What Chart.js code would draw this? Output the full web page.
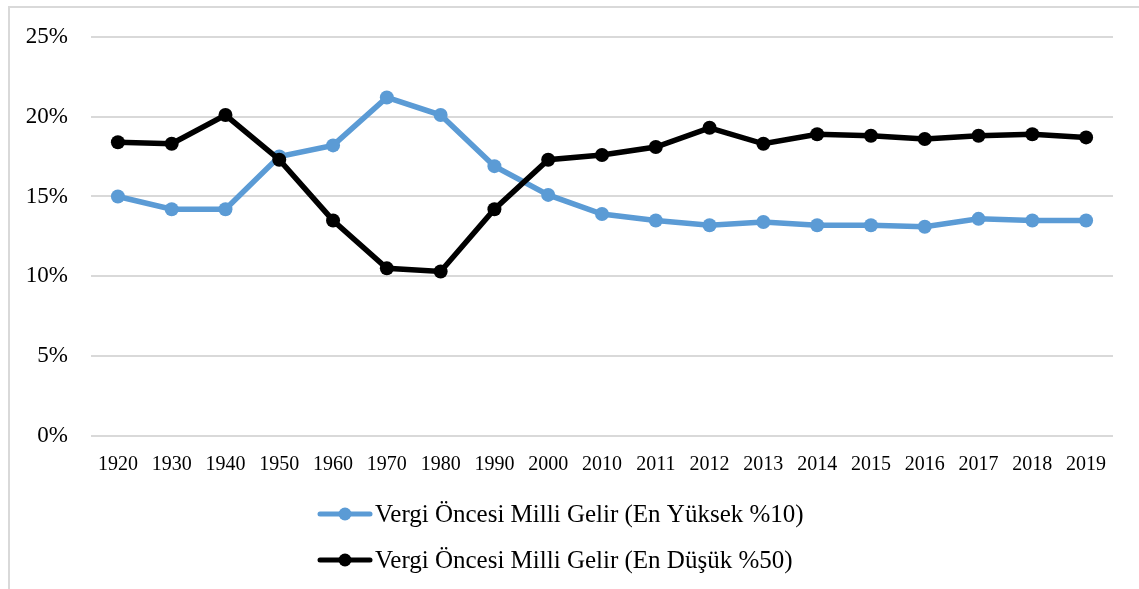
<!DOCTYPE html>
<html lang="tr">
<head>
<meta charset="utf-8">
<title>Vergi Öncesi Milli Gelir</title>
<script src="https://cdn.jsdelivr.net/npm/chart.js@4.4.1/dist/chart.umd.min.js"></script>
<style>
    html, body { margin: 0; padding: 0; background: #fff; }
    #wrap { width: 1139px; height: 589px; position: relative; }
</style>
</head>
<body>
<div id="wrap"><canvas id="gelirChart" width="1139" height="589"></canvas></div>
<script>
// Veriler
const yillar = ['1920', '1930', '1940', '1950', '1960', '1970', '1980', '1990', '2000',
    '2010', '2011', '2012', '2013', '2014', '2015', '2016', '2017', '2018', '2019'];
const enYuksek10 = [15.0, 14.2, 14.2, 17.5, 18.2, 21.2, 20.1, 16.9, 15.1,
    13.9, 13.5, 13.2, 13.4, 13.2, 13.2, 13.1, 13.6, 13.5, 13.5];
const enDusuk50 = [18.4, 18.3, 20.1, 17.3, 13.5, 10.5, 10.3, 14.2, 17.3,
    17.6, 18.1, 19.3, 18.3, 18.9, 18.8, 18.6, 18.8, 18.9, 18.7];
const seriAdlari = ['Vergi Öncesi Milli Gelir (En Yüksek %10)', 'Vergi Öncesi Milli Gelir (En Düşük %50)'];
const yTikler = [0, 5, 10, 15, 20, 25];

const FONT = "'Liberation Serif', 'Times New Roman', serif";

// Çerçeve
const cercevePlugin = {
    id: 'cerceve',
    beforeDraw(chart) {
        const ctx = chart.ctx;
        ctx.save();
        ctx.fillStyle = '#fff';
        ctx.fillRect(0, 0, chart.width, chart.height);
        ctx.strokeStyle = '#d9d9d9';
        ctx.lineWidth = 2;
        ctx.strokeRect(9, 7, chart.width + 20, chart.height + 20);
        ctx.restore();
    }
};

// Alt kısımda iki satırlık lejant
const lejantPlugin = {
    id: 'lejant',
    afterDraw(chart) {
        const ctx = chart.ctx;
        const x0 = 318, satirlar = [514, 560];
        ctx.save();
        ctx.font = '25px ' + FONT;
        ctx.textBaseline = 'middle';
        chart.data.datasets.forEach((ds, i) => {
            const y = satirlar[i];
            ctx.strokeStyle = ds.borderColor;
            ctx.lineWidth = 5;
            ctx.lineCap = 'round';
            ctx.beginPath();
            ctx.moveTo(x0 + 2, y);
            ctx.lineTo(x0 + 52, y);
            ctx.stroke();
            ctx.fillStyle = ds.backgroundColor;
            ctx.beginPath();
            ctx.arc(x0 + 27, y, 6.5, 0, Math.PI * 2);
            ctx.fill();
            ctx.fillStyle = '#000';
            ctx.fillText(ds.label, x0 + 57, y + 1);
        });
        ctx.restore();
    }
};

new Chart(document.getElementById('gelirChart'), {
    type: 'line',
    data: {
        labels: yillar,
        datasets: [
            {
                label: seriAdlari[0],
                data: enYuksek10,
                borderColor: '#5b9bd5',
                backgroundColor: '#5b9bd5',
                borderWidth: 5.5,
                pointRadius: 7,
                pointBorderWidth: 0,
                tension: 0,
                order: 1
            },
            {
                label: seriAdlari[1],
                data: enDusuk50,
                borderColor: '#000000',
                backgroundColor: '#000000',
                borderWidth: 5.5,
                pointRadius: 7,
                pointBorderWidth: 0,
                tension: 0,
                order: 0
            }
        ]
    },
    options: {
        responsive: false,
        animation: false,
        layout: { padding: { left: 9, top: 36, right: 26, bottom: 0 } },
        plugins: {
            legend: { display: false },
            tooltip: { enabled: false }
        },
        scales: {
            x: {
                offset: true,
                grid: { display: false },
                border: { display: false },
                ticks: {
                    color: '#000',
                    font: { family: FONT, size: 20 },
                    padding: 9,
                    maxRotation: 0,
                    autoSkip: false
                },
                afterFit(scale) { scale.height = 153; }
            },
            y: {
                min: 0,
                max: 25,
                grid: { color: '#d9d9d9', lineWidth: 2, drawTicks: false },
                border: { display: false },
                afterBuildTicks(scale) { scale.ticks = yTikler.map(v => ({ value: v })); },
                ticks: {
                    color: '#000',
                    font: { family: FONT, size: 23 },
                    padding: 23,
                    callback: v => v + '%'
                },
                afterFit(scale) { scale.width = 82; }
            }
        }
    },
    plugins: [cercevePlugin, lejantPlugin]
});
</script>
</body>
</html>
